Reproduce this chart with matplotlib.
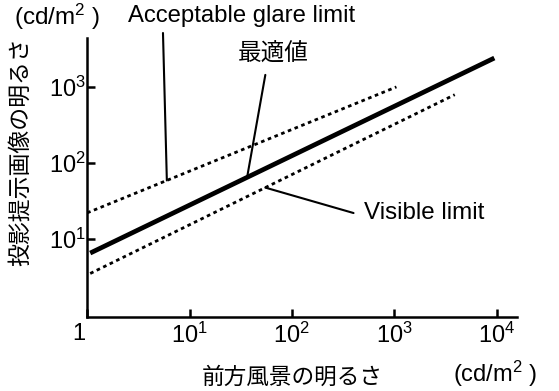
import numpy as np
import matplotlib.pyplot as plt
import matplotlib.transforms as mtransforms

plt.rcParams['font.family'] = ['Liberation Sans', 'Noto Sans CJK JP', 'DejaVu Sans']
plt.rcParams['mathtext.fontset'] = 'custom'
plt.rcParams['mathtext.rm'] = 'Liberation Sans'
plt.rcParams['mathtext.default'] = 'regular'

# data (log-log)
opt_x = [1.07, 9500]
opt_y = [6.5, 2400]
glare_x = [1.0, 1050]
glare_y = [22, 1000]
visible_x = [1.07, 3900]
visible_y = [3.5, 790]

xticks = [1, 10, 100, 1000, 10000]
xticklabels = ['1', '$10^{1}$', '$10^{2}$', '$10^{3}$', '$10^{4}$']
yticks = [10, 100, 1000]
yticklabels = ['$10^{1}$', '$10^{2}$', '$10^{3}$']

def on_line(xs, ys, x):
    # y on a straight log-log line at x
    return 10 ** np.interp(np.log10(x), np.log10(xs), np.log10(ys))

fig = plt.figure(figsize=(5.59, 3.91), dpi=100)
ax = fig.add_axes([0.156, 0.189, 0.769, 0.714])
ax.set_xscale('log')
ax.set_yscale('log')

ax.plot(opt_x, opt_y, color='black', lw=3.4, solid_capstyle='butt')
ax.plot(glare_x, glare_y, color='black', lw=2.0, linestyle=(0, (1.3, 1.3)))
ax.plot(visible_x, visible_y, color='black', lw=2.0, linestyle=(0, (1.3, 1.3)))

ax.set_xlim(1, 10 ** 4.2)
ax.set_ylim(10 ** -0.03, 10 ** 3.645)
ax.minorticks_off()
ax.set_xticks(xticks)
ax.set_xticklabels(xticklabels)
ax.set_yticks(yticks)
ax.set_yticklabels(yticklabels)
ax.tick_params(direction='in', length=6, width=1.8, labelsize=17, pad=4)
ax.tick_params(axis='y', pad=1)
for s in ['top', 'right']:
    ax.spines[s].set_visible(False)
for s in ['left', 'bottom']:
    ax.spines[s].set_linewidth(1.8)

# the "1" sits a little left of the spine
lab0 = ax.get_xticklabels()[0]
lab0.set_transform(lab0.get_transform() + mtransforms.ScaledTranslation(-0.08, 0, fig.dpi_scale_trans))

# leader lines
lead = dict(arrowstyle='-', color='black', lw=1.5, shrinkA=0, shrinkB=0)
ax.annotate('', xy=(6.0, on_line(glare_x, glare_y, 6.0)), xytext=(5.5, 10 ** 3.71),
            arrowprops=lead, annotation_clip=False)
ax.annotate('', xy=(36.5, on_line(opt_x, opt_y, 36.5)), xytext=(55, 1440),
            arrowprops=lead, annotation_clip=False)
ax.annotate('', xy=(55, on_line(visible_x, visible_y, 55)), xytext=(400, 10 ** 1.34),
            arrowprops=lead, annotation_clip=False)

fig.text(128 / 559, 1 - 16 / 391, 'Acceptable glare limit', fontsize=17.2, va='center', ha='left')
fig.text(238 / 559, 1 - 55 / 391, '最適値', fontsize=17, va='center', ha='left')
fig.text(364 / 559, 1 - 213 / 391, 'Visible limit', fontsize=17.4, va='center', ha='left')
fig.text(14 / 559, 1 - 17 / 391, '(cd/m$^{2}$ )', fontsize=17.5, va='center', ha='left')
fig.text(453 / 559, 1 - 374 / 391, '(cd/m$^{2}$ )', fontsize=17, va='center', ha='left')

fig.text(292 / 559, 1 - 377 / 391, '前方風景の明るさ', fontsize=16.3, va='center', ha='center',
         family=['Noto Sans CJK JP'])
fig.text(20 / 559, 1 - 152 / 391, '投影提示画像の明るさ', fontsize=16.5, va='center', ha='center',
         rotation=90, family=['Noto Sans CJK JP'])

fig.savefig('out.png', dpi=100)
